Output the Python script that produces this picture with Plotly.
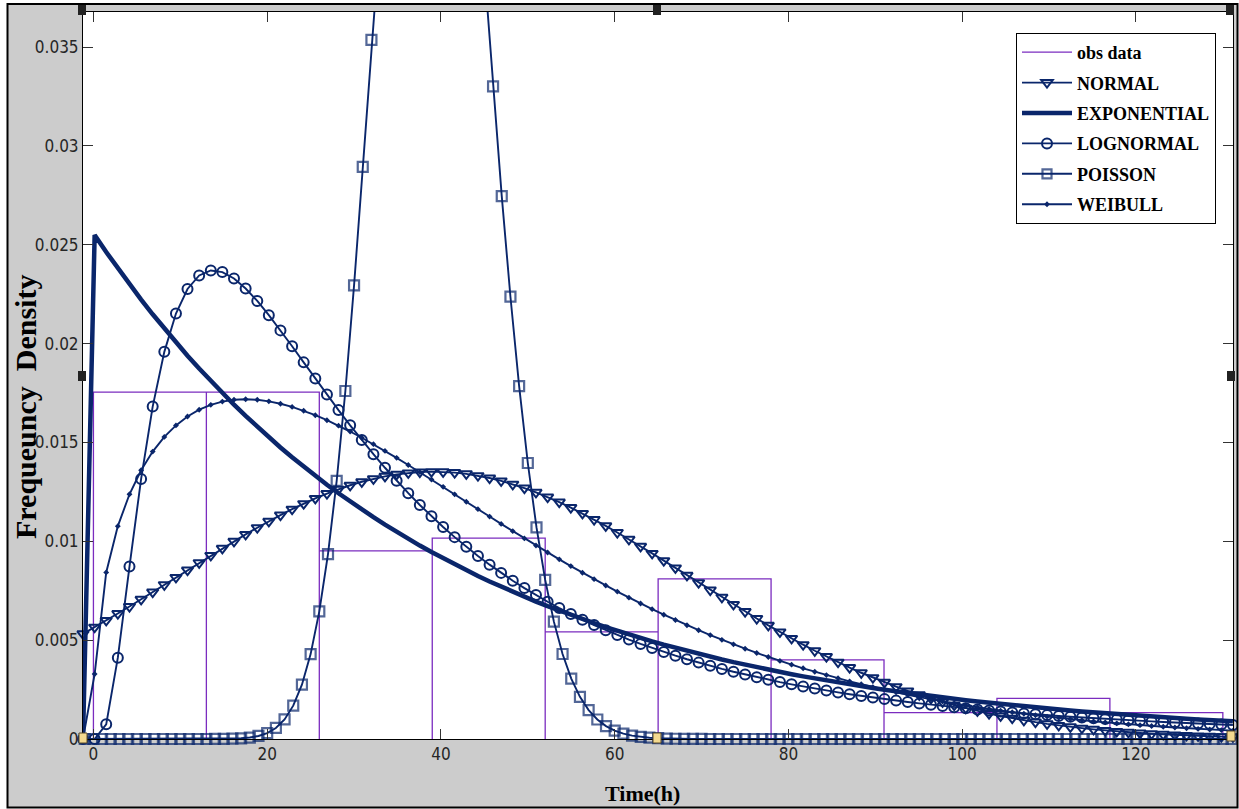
import plotly.graph_objects as go

# ---------------- data ----------------
x_grid = [
    -1.20, 0.14, 1.47, 2.81, 4.15, 5.49, 6.82, 8.16, 9.50, 10.83,
    12.17, 13.51, 14.84, 16.18, 17.52, 18.86, 20.19, 21.53, 22.87, 24.20,
    25.54, 26.88, 28.21, 29.55, 30.89, 32.23, 33.56, 34.90, 36.24, 37.57,
    38.91, 40.25, 41.58, 42.92, 44.26, 45.60, 46.93, 48.27, 49.61, 50.94,
    52.28, 53.62, 54.95, 56.29, 57.63, 58.97, 60.30, 61.64, 62.98, 64.31,
    65.65, 66.99, 68.32, 69.66, 71.00, 72.34, 73.67, 75.01, 76.35, 77.68,
    79.02, 80.36, 81.69, 83.03, 84.37, 85.71, 87.04, 88.38, 89.72, 91.05,
    92.39, 93.73, 95.06, 96.40, 97.74, 99.08, 100.41, 101.75, 103.09, 104.42,
    105.76, 107.10, 108.43, 109.77, 111.11, 112.45, 113.78, 115.12, 116.46, 117.79,
    119.13, 120.47, 121.80, 123.14, 124.48, 125.82, 127.15, 128.49, 129.83, 131.16,
]

normal_pdf = [
    0.005319, 0.005653, 0.005995, 0.006345, 0.006702, 0.007066, 0.007432, 0.007801, 0.008173, 0.008545,
    0.008914, 0.009282, 0.009645, 0.010000, 0.010348, 0.010686, 0.011012, 0.011324, 0.011623, 0.011904,
    0.012167, 0.012411, 0.012633, 0.012833, 0.013009, 0.013161, 0.013286, 0.013387, 0.013459, 0.013505,
    0.013523, 0.013513, 0.013475, 0.013410, 0.013318, 0.013199, 0.013055, 0.012885, 0.012692, 0.012476,
    0.012239, 0.011981, 0.011705, 0.011411, 0.011102, 0.010781, 0.010445, 0.010100, 0.009746, 0.009386,
    0.009020, 0.008651, 0.008279, 0.007907, 0.007536, 0.007169, 0.006805, 0.006446, 0.006094, 0.005749,
    0.005413, 0.005086, 0.004769, 0.004463, 0.004167, 0.003883, 0.003611, 0.003351, 0.003103, 0.002868,
    0.002645, 0.002434, 0.002236, 0.002050, 0.001875, 0.001712, 0.001560, 0.001418, 0.001287, 0.001165,
    0.001053, 0.000949, 0.000854, 0.000767, 0.000687, 0.000615, 0.000549, 0.000489, 0.000434, 0.000385,
    0.000341, 0.000301, 0.000266, 0.000234, 0.000205, 0.000180, 0.000157, 0.000137, 0.000119, 0.000104,
]

exponential_pdf = [
    0.0, 0.025486, 0.024629, 0.023801, 0.023001, 0.022228, 0.021481, 0.020759, 0.020061, 0.019387,
    0.018735, 0.018105, 0.017496, 0.016908, 0.016340, 0.015791, 0.015260, 0.014747, 0.014251, 0.013772,
    0.013309, 0.012862, 0.012430, 0.012012, 0.011608, 0.011218, 0.010841, 0.010476, 0.010124, 0.009784,
    0.009455, 0.009137, 0.008830, 0.008533, 0.008246, 0.007969, 0.007701, 0.007442, 0.007192, 0.006950,
    0.006717, 0.006491, 0.006273, 0.006062, 0.005858, 0.005661, 0.005471, 0.005287, 0.005109, 0.004938,
    0.004772, 0.004611, 0.004456, 0.004306, 0.004162, 0.004022, 0.003887, 0.003756, 0.003630, 0.003508,
    0.003390, 0.003276, 0.003166, 0.003059, 0.002957, 0.002857, 0.002761, 0.002668, 0.002579, 0.002492,
    0.002408, 0.002327, 0.002249, 0.002173, 0.002100, 0.002030, 0.001961, 0.001895, 0.001832, 0.001771,
    0.001711, 0.001653, 0.001597, 0.001544, 0.001492, 0.001442, 0.001393, 0.001346, 0.001301, 0.001257,
    0.001215, 0.001174, 0.001135, 0.001096, 0.001060, 0.001024, 0.000990, 0.000956, 0.000924, 0.000893,
]

lognormal_pdf = [
    0.0, 0.0, 0.000744, 0.004111, 0.008724, 0.013154, 0.016813, 0.019581, 0.021522, 0.022761,
    0.023446, 0.023696, 0.023614, 0.023289, 0.022785, 0.022155, 0.021438, 0.020667, 0.019865, 0.019049,
    0.018232, 0.017425, 0.016634, 0.015866, 0.015122, 0.014406, 0.013719, 0.013062, 0.012434, 0.011836,
    0.011266, 0.010724, 0.010210, 0.009722, 0.009258, 0.008818, 0.008402, 0.008007, 0.007633, 0.007278,
    0.006942, 0.006623, 0.006321, 0.006034, 0.005763, 0.005505, 0.005260, 0.005029, 0.004808, 0.004599,
    0.004401, 0.004212, 0.004033, 0.003863, 0.003700, 0.003546, 0.003400, 0.003260, 0.003127, 0.003001,
    0.002880, 0.002765, 0.002656, 0.002551, 0.002451, 0.002356, 0.002265, 0.002179, 0.002096, 0.002017,
    0.001941, 0.001869, 0.001800, 0.001734, 0.001670, 0.001610, 0.001552, 0.001496, 0.001443, 0.001392,
    0.001343, 0.001296, 0.001251, 0.001208, 0.001167, 0.001127, 0.001089, 0.001052, 0.001017, 0.000983,
    0.000951, 0.000920, 0.000890, 0.000861, 0.000833, 0.000806, 0.000781, 0.000756, 0.000732, 0.000709,
]

weibull_pdf = [
    0.0, 0.003286, 0.008426, 0.010766, 0.012379, 0.013593, 0.014537, 0.015280, 0.015862, 0.016314,
    0.016655, 0.016901, 0.017065, 0.017156, 0.017185, 0.017157, 0.017079, 0.016958, 0.016796, 0.016602,
    0.016376, 0.016123, 0.015847, 0.015551, 0.015238, 0.014911, 0.014570, 0.014219, 0.013861, 0.013496,
    0.013125, 0.012752, 0.012376, 0.012000, 0.011625, 0.011250, 0.010879, 0.010511, 0.010147, 0.009789,
    0.009435, 0.009087, 0.008747, 0.008411, 0.008085, 0.007766, 0.007454, 0.007150, 0.006854, 0.006566,
    0.006287, 0.006016, 0.005754, 0.005501, 0.005254, 0.005017, 0.004788, 0.004566, 0.004352, 0.004147,
    0.003950, 0.003759, 0.003576, 0.003401, 0.003232, 0.003071, 0.002916, 0.002768, 0.002626, 0.002491,
    0.002360, 0.002236, 0.002119, 0.002006, 0.001898, 0.001795, 0.001697, 0.001604, 0.001515, 0.001431,
    0.001352, 0.001276, 0.001203, 0.001134, 0.001070, 0.001008, 0.000949, 0.000894, 0.000842, 0.000792,
    0.000745, 0.000700, 0.000658, 0.000619, 0.000581, 0.000546, 0.000512, 0.000481, 0.000451, 0.000423,
]

poisson_k = list(range(-1, 132))
poisson_pmf = [
    0.0, 0.0, 0.0, 0.0, 0.0, 0.0, 0.0, 0.0, 0.0, 0.0, 0.0, 0.0, 0.0, 0.0, 0.0,
    0.0000023, 0.0000061, 0.0000149, 0.0000343, 0.0000745, 0.000153, 0.000300, 0.000558, 0.000991, 0.001685,
    0.002746, 0.004294, 0.006458, 0.009352, 0.01306, 0.01760, 0.02294, 0.02894, 0.03536, 0.04190,
    0.04819, 0.05383, 0.05846, 0.06178, 0.06357, 0.06373, 0.06230, 0.05941, 0.05531, 0.05029,
    0.04469, 0.03883, 0.03301, 0.02746, 0.02237, 0.01785, 0.01396, 0.01070, 0.008046, 0.005936,
    0.004298, 0.003056, 0.002134, 0.001464, 0.000987, 0.000654, 0.000426, 0.000273, 0.000172, 0.000107,
    0.0000653, 0.0000393, 0.0000233, 0.0000136, 0.0000078, 0.0000044, 0.0000025,
    0.0, 0.0, 0.0, 0.0, 0.0, 0.0, 0.0, 0.0, 0.0, 0.0, 0.0, 0.0, 0.0, 0.0, 0.0, 0.0, 0.0, 0.0, 0.0, 0.0,
    0.0, 0.0, 0.0, 0.0, 0.0, 0.0, 0.0, 0.0, 0.0, 0.0, 0.0, 0.0, 0.0, 0.0, 0.0, 0.0, 0.0, 0.0, 0.0, 0.0,
    0.0, 0.0, 0.0, 0.0, 0.0, 0.0, 0.0, 0.0, 0.0, 0.0, 0.0, 0.0, 0.0, 0.0, 0.0, 0.0, 0.0, 0.0, 0.0, 0.0,
    0.0,
]

bin_edges = [0, 13, 26, 39, 52, 65, 78, 91, 104, 117, 130]
obs_density = [0.01754, 0.01754, 0.00951, 0.01016, 0.00542, 0.00810, 0.00400, 0.00133, 0.00205, 0.00133]

x_tick_vals = [0, 20, 40, 60, 80, 100, 120]
y_tick_vals = [0, 0.005, 0.01, 0.015, 0.02, 0.025, 0.03, 0.035]
y_tick_text = ["0", "0.005", "0.01", "0.015", "0.02", "0.025", "0.03", "0.035"]

series_names = ["obs data", "NORMAL", "EXPONENTIAL", "LOGNORMAL", "POISSON", "WEIBULL"]

# ---------------- layout constants ----------------
W, H = 1239, 809
ML, MR, MT, MB = 83, 6, 12, 70
X_RANGE = [-1.2, 131.17]
Y_RANGE = [0, 0.03677]
NAVY = "#0a266b"
PURPLE = "#7b2cbf"
GREY = "#cccccc"
LW = 1.9
MLW = 2.0

PW = W - ML - MR
PH = H - MT - MB


def px_x(px):
    return (px - ML) / PW


def px_y(py):
    return (H - MB - py) / PH


# histogram outline built from bins
hx, hy = [], []
for a, b, h in zip(bin_edges[:-1], bin_edges[1:], obs_density):
    hx += [a, a, b, b]
    hy += [0, h, h, 0]

fig = go.Figure()

fig.add_trace(go.Scatter(
    x=hx, y=hy, mode="lines", name=series_names[0], legendgroup="g0",
    line=dict(color=PURPLE, width=1.3),
))
fig.add_trace(go.Scatter(
    x=x_grid, y=normal_pdf, mode="lines+markers", name=series_names[1], legendgroup="g1",
    line=dict(color=NAVY, width=LW), cliponaxis=False,
    marker=dict(symbol="triangle-down-open", size=10, color=NAVY, line=dict(width=MLW, color=NAVY)),
))
fig.add_trace(go.Scatter(
    x=x_grid, y=exponential_pdf, mode="lines", name=series_names[2], legendgroup="g2",
    line=dict(color=NAVY, width=4.5),
))
fig.add_trace(go.Scatter(
    x=x_grid, y=lognormal_pdf, mode="lines+markers", name=series_names[3], legendgroup="g3",
    line=dict(color=NAVY, width=LW), cliponaxis=False,
    marker=dict(symbol="circle-open", size=10, color=NAVY, line=dict(width=MLW, color=NAVY)),
))
poisson_sizes = [10 if v <= Y_RANGE[1] else 0 for v in poisson_pmf]
fig.add_trace(go.Scatter(
    x=poisson_k, y=poisson_pmf, mode="lines+markers", name=series_names[4], legendgroup="g4",
    line=dict(color=NAVY, width=LW), cliponaxis=False,
    marker=dict(symbol="square-open", size=poisson_sizes, color=NAVY, line=dict(width=2.2, color=NAVY)),
))
fig.add_trace(go.Scatter(
    x=x_grid, y=weibull_pdf, mode="lines+markers", name=series_names[5], legendgroup="g5",
    line=dict(color=NAVY, width=LW), cliponaxis=False,
    marker=dict(symbol="diamond", size=4.5, color=NAVY),
))

axis_common = dict(
    showline=True, linecolor="black", linewidth=1, mirror="ticks",
    ticks="inside", ticklen=10, tickcolor="#333333", tickwidth=1,
    showgrid=False, zeroline=False,
    tickfont=dict(family="Liberation Sans Narrow, DejaVu Sans Condensed, Arial Narrow, Liberation Sans, Arial",
                  size=17, color="#262626"),
)

fig.update_xaxes(range=X_RANGE, tickvals=x_tick_vals, ticktext=[str(v) for v in x_tick_vals], **axis_common)
fig.update_yaxes(range=Y_RANGE, tickvals=y_tick_vals, ticktext=y_tick_text, **axis_common)

shapes = []
# white strips outside the figure frame
for x0, y0, x1, y1 in [(0, 0, 7, H), (0, 0, W, 3), (1238, 0, W, H), (0, 808, W, H)]:
    shapes.append(dict(type="rect", xref="paper", yref="paper",
                       x0=px_x(x0), x1=px_x(x1), y0=px_y(y0), y1=px_y(y1),
                       fillcolor="white", line=dict(width=0), layer="above"))
# black frame
shapes.append(dict(type="rect", xref="paper", yref="paper",
                   x0=px_x(7.5), x1=px_x(1237.5), y0=px_y(4), y1=px_y(807.5),
                   line=dict(color="black", width=2), fillcolor="rgba(0,0,0,0)", layer="above"))
# selection handles
for cx, cy in [(82, 10), (657, 10), (1230, 10), (82, 376), (1231, 376)]:
    shapes.append(dict(type="rect", xref="paper", yref="paper",
                       x0=px_x(cx - 4), x1=px_x(cx + 4), y0=px_y(cy - 5), y1=px_y(cy + 5),
                       fillcolor="#222222", line=dict(width=0), layer="above"))
for cx, cy in [(83, 738), (657, 738), (1231, 736)]:
    shapes.append(dict(type="rect", xref="paper", yref="paper",
                       x0=px_x(cx - 4), x1=px_x(cx + 4), y0=px_y(cy - 5), y1=px_y(cy + 5),
                       fillcolor="#f3d98f", line=dict(width=1, color="#5a4a2a"), layer="above"))

annotations = [
    dict(text="Time(h)", xref="paper", yref="paper", x=px_x(642), y=px_y(793),
         showarrow=False, xanchor="center", yanchor="middle",
         font=dict(family="Liberation Serif, Times New Roman, serif", size=22, color="black", weight="bold")),
    dict(text="Frequeuncy\u00a0 Density", xref="paper", yref="paper", x=px_x(25), y=px_y(407),
         showarrow=False, xanchor="center", yanchor="middle", textangle=-90,
         font=dict(family="Liberation Serif, Times New Roman, serif", size=30, color="black", weight="bold")),
]

fig.update_layout(
    width=W, height=H,
    margin=dict(l=ML, r=MR, t=MT, b=MB),
    paper_bgcolor=GREY, plot_bgcolor="white",
    shapes=shapes, annotations=annotations,
    legend=dict(
        x=px_x(1016), y=px_y(33), xanchor="left", yanchor="top",
        bgcolor="white", bordercolor="black", borderwidth=1,
        font=dict(family="Liberation Serif, Times New Roman, serif", size=18, color="black", weight="bold"),
        traceorder="grouped", tracegroupgap=4, itemwidth=50,
    ),
    showlegend=True,
)

fig.write_html("out.html")
